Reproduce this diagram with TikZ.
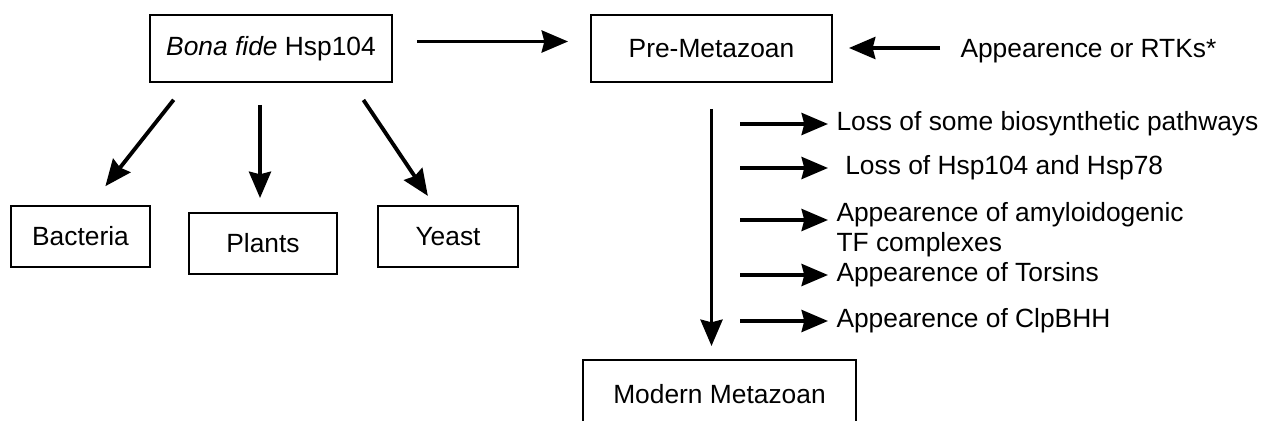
\documentclass[tikz,border=0pt]{standalone}
\usepackage{fontspec}
\setmainfont{Liberation Sans}
\usetikzlibrary{arrows.meta}
\tikzset{
  box/.style={draw, line width=1.1pt, inner sep=0pt, align=center},
  lbl/.style={anchor=west, inner ysep=0pt, inner xsep=3.5pt, align=left},
  arr/.style={line width=2.2pt, -{Stealth[length=15pt,width=12.5pt,inset=1.5pt]}}
}
\begin{document}
\begin{tikzpicture}[x=0.02cm, y=-0.02cm, font=\fontsize{15}{17}\selectfont]
\useasboundingbox (0,0) rectangle (1262,421);
\clip (0,0) rectangle (1262,421);
\fill[white] (0,0) rectangle (1262,421);

% Top row: Hsp104 and pre-Metazoan
\node[box, minimum width=4.84cm, minimum height=1.34cm] (bona) at (271,48.5) {\textit{Bona fide} Hsp104};
\node[box, minimum width=4.82cm, minimum height=1.34cm] (pre) at (711.5,48.5) {Pre-Metazoan};
\node[lbl] (rtk) at (954,51) {Appearence or RTKs*};

% Three lineages below
\node[box, minimum width=2.78cm, minimum height=1.22cm] (bact) at (80.5,236.5) {Bacteria};
\node[box, minimum width=2.96cm, minimum height=1.22cm] (plants) at (263,243.5) {Plants};
\node[box, minimum width=2.80cm, minimum height=1.22cm] (yeast) at (448,236.5) {Yeast};

% Modern Metazoan, cut by the lower edge
\node[box, minimum width=5.46cm, minimum height=1.36cm] (modern) at (719.5,394) {Modern Metazoan};

% Events along the way
\node[lbl] (lossa) at (830,124) {Loss of some biosynthetic pathways};
\node[lbl, inner xsep=8.5pt] (lossb) at (830,168) {Loss of Hsp104 and Hsp78};
\node[lbl] (amyl) at (830,230) {Appearence of amyloidogenic\\TF complexes};
\node[lbl] (tors) at (830,275) {Appearence of Torsins};
\node[lbl] (clpb) at (830,321) {Appearence of ClpBHH};

% Arrows
\draw[arr, shorten <=0.48cm, shorten >=0.44cm] ([shift={(0,-7)}]bona.east) -- ([shift={(0,-7)}]pre.west);
\draw[arr, shorten <=0.28cm, shorten >=0.32cm] ([shift={(0,-3)}]rtk.west) -- ([shift={(0,-3)}]rtk.west -| pre.east);
\draw[arr, shorten <=0.43cm, shorten >=0.48cm] ([shift={(-84,0)}]bona.south) -- ([shift={(10,0)}]bact.north);
\draw[arr, shorten <=0.44cm, shorten >=0.28cm] ([shift={(-11,0)}]bona.south) -- ([shift={(-3,0)}]plants.north);
\draw[arr, shorten <=0.41cm, shorten >=0.22cm] ([shift={(81,0)}]bona.south) -- ([shift={(-14,0)}]yeast.north);
\draw[arr, shorten <=0.52cm, shorten >=0.26cm] (pre.south) -- (pre.south |- modern.north);
\foreach \n/\dy in {lossa/0, lossb/0, amyl/-10, tors/0, clpb/0} {
  \draw[arr] ([shift={(-90,\dy)}]\n.west) -- ([shift={(-2,\dy)}]\n.west);
}
\end{tikzpicture}
\end{document}
